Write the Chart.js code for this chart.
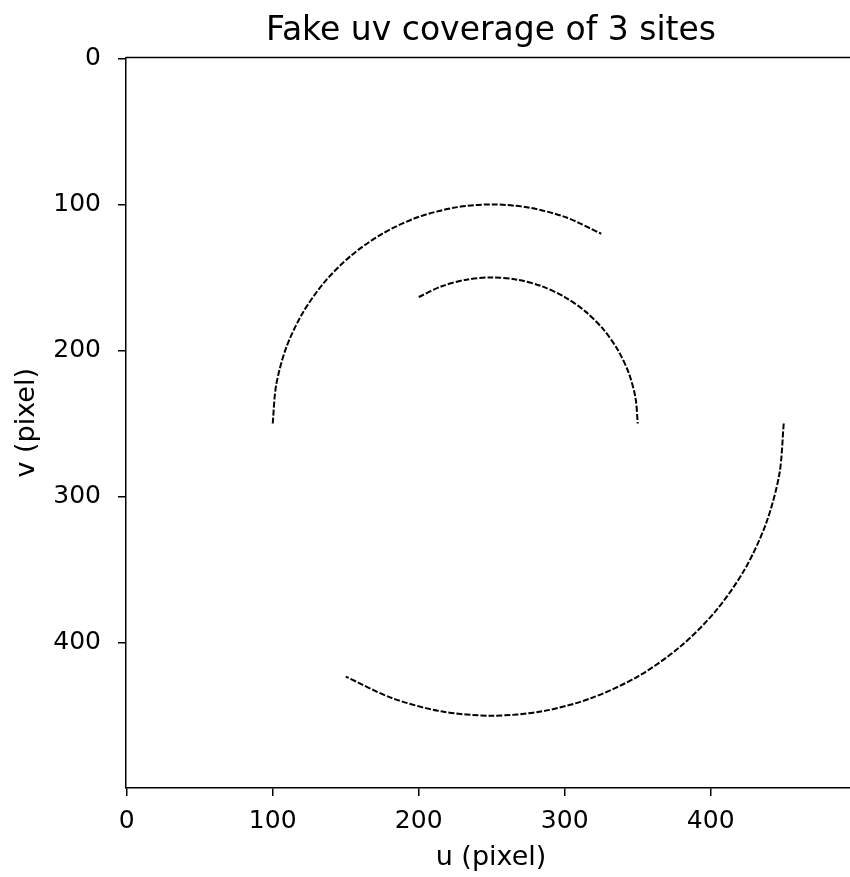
<!DOCTYPE html>
<html>
<head>
<meta charset="utf-8">
<script src="https://cdn.jsdelivr.net/npm/chart.js@4"></script>
<style>
  html, body { margin: 0; padding: 0; overflow: hidden; background: #fff; }
  canvas { display: block; }
</style>
</head>
<body>
<canvas id="myChart" width="856" height="877"></canvas>
<script>
// uv tracks (u, v in pixels)
var outerTopU = [100, 102.3, 109.0, 120.1, 135.1, 153.6, 175.0, 198.7, 224.0, 250, 276.0, 301.3, 325.0];
var outerTopV = [250, 224.0, 198.7, 175.0, 153.6, 135.1, 120.1, 109.0, 102.3, 100, 102.3, 109.0, 120.1];

var innerU = [200, 215.8, 232.6, 250, 267.4, 284.2, 300, 314.3, 326.6, 336.6, 344.0, 348.5, 350];
var innerV = [163.4, 156.0, 151.5, 150, 151.5, 156.0, 163.4, 173.4, 185.7, 200, 215.8, 232.6, 250];

var lowerU = [450, 447.0, 437.9, 423.2, 403.2, 378.6, 350, 318.4, 284.7, 250, 215.3, 181.6, 150];
var lowerV = [250, 284.7, 318.4, 350, 378.6, 403.2, 423.2, 437.9, 447.0, 450, 447.0, 437.9, 423.2];

var tickVals = [0, 100, 200, 300, 400];

function pts(us, vs) {
  return us.map(function (u, i) {
    return { x: u, y: vs[i] };
  });
}

function track(us, vs) {
  return {
    data: pts(us, vs),
    showLine: true,
    borderColor: "#000",
    borderWidth: 2,
    borderDash: [6, 2],
    pointRadius: 0,
    tension: 0.3,
    fill: false,
  };
}

var tickFont = { family: "DejaVu Sans", size: 25 };
var labelFont = { family: "DejaVu Sans", size: 27 };

// top spine (right one is off the picture)
var topSpine = {
  id: "topSpine",
  afterDraw: function (chart) {
    var a = chart.chartArea;
    var ctx = chart.ctx;
    ctx.save();
    ctx.strokeStyle = "#000";
    ctx.lineWidth = 1.5;
    ctx.beginPath();
    ctx.moveTo(a.left, a.top);
    ctx.lineTo(a.right, a.top);
    ctx.stroke();
    ctx.restore();
  },
};

var ctx = document.getElementById("myChart").getContext("2d");
var chart = new Chart(ctx, {
  type: "scatter",
  data: {
    datasets: [
      track(outerTopU, outerTopV),
      track(innerU, innerV),
      track(lowerU, lowerV),
    ],
  },
  options: {
    responsive: false,
    animation: false,
    layout: { padding: 0 },
    plugins: {
      legend: { display: false },
      tooltip: { enabled: false },
      title: {
        display: true,
        text: "Fake uv coverage of 3 sites",
        fullSize: false,
        color: "#000",
        font: { family: "DejaVu Sans", size: 33, weight: "normal" },
        padding: { top: 12, bottom: 6 },
      },
    },
    scales: {
      x: {
        type: "linear",
        min: -0.5,
        max: 499.5,
        afterBuildTicks: function (scale) {
          scale.ticks = tickVals.map(function (v) { return { value: v }; });
        },
        afterFit: function (scale) {
          scale.height = 89;
        },
        ticks: { color: "#000", font: tickFont, padding: 10, maxRotation: 0 },
        grid: { drawOnChartArea: false, drawTicks: true, tickLength: 8, color: "#000", lineWidth: 1.5 },
        border: { display: true, color: "#000", width: 1.5 },
        title: { display: true, text: "u (pixel)", color: "#000", font: labelFont, padding: { top: 0, bottom: 3 } },
      },
      y: {
        type: "linear",
        reverse: true,
        min: -0.5,
        max: 499.5,
        afterBuildTicks: function (scale) {
          scale.ticks = tickVals.map(function (v) { return { value: v }; });
        },
        afterFit: function (scale) {
          scale.width = 126;
        },
        ticks: { color: "#000", font: tickFont, padding: 17 },
        grid: { drawOnChartArea: false, drawTicks: true, tickLength: 8, color: "#000", lineWidth: 1.5 },
        border: { display: true, color: "#000", width: 1.5 },
        title: { display: true, text: "v (pixel)", color: "#000", font: labelFont, padding: { top: 11, bottom: 0 } },
      },
    },
  },
  plugins: [topSpine],
});
</script>
</body>
</html>
